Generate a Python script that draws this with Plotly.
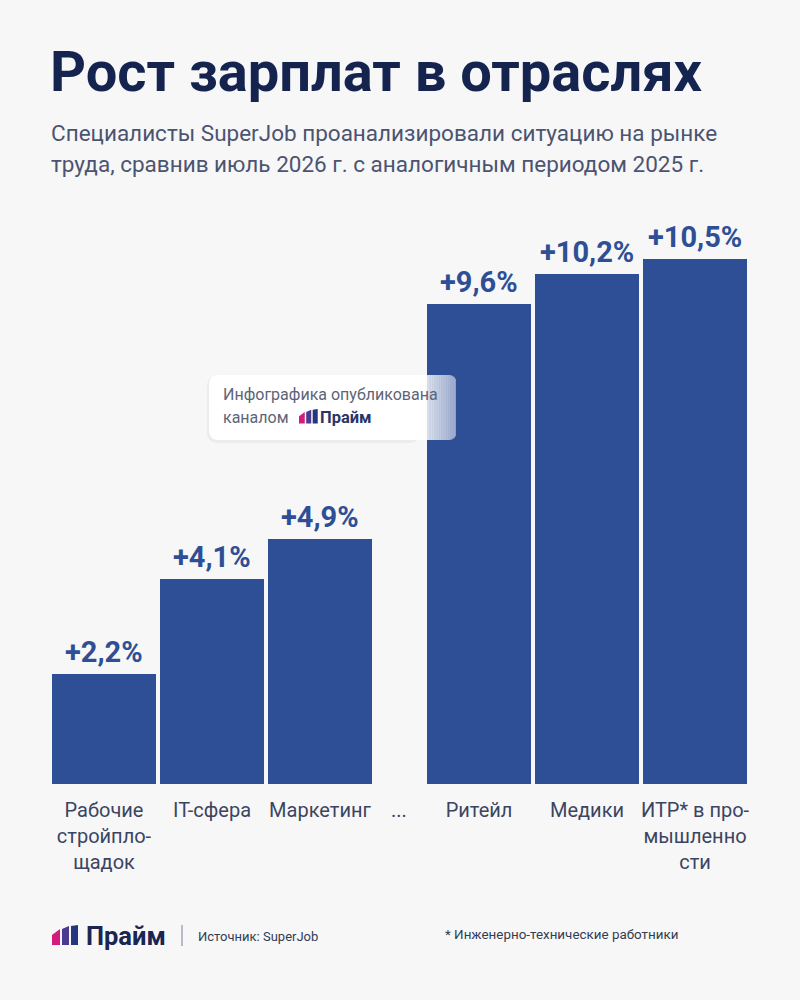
import plotly.graph_objects as go

# ---------------- data ----------------
cats_left = ["Рабочие<br>стройпло-<br>щадок", "IT-сфера", "Маркетинг"]
vals_left = [2.2, 4.1, 4.9]
cats_right = ["Ритейл", "Медики", "ИТР* в про-<br>мышленно<br>сти"]
vals_right = [9.6, 10.2, 10.5]
gap_label = "..."

title_text = "Рост зарплат в отраслях"
subtitle_lines = [
    "Специалисты SuperJob проанализировали ситуацию на рынке",
    "труда, сравнив июль 2026 г. с аналогичным периодом 2025 г.",
]
source_text = "Источник: SuperJob"
note_text = "* Инженерно-технические работники"
overlay_lines = ["Инфографика опубликована", "каналом"]
brand = "Прайм"

# ---------------- style ----------------
W, H = 800, 1000
BG = "#f7f7f8"
BAR = "#2e4f96"
NAVY = "#14244f"
SUB = "#4b5470"
TICK = "#3b4561"
FONT = "Roboto"


def px(x):
    return x / W


def py(y):
    return 1 - y / H


def fmt(v):
    return ("+%.1f%%" % v).replace(".", ",")


fig = go.Figure()
fig.add_trace(go.Bar(x=cats_left, y=vals_left, xaxis="x", yaxis="y",
                     marker=dict(color=BAR, line=dict(width=0)), hoverinfo="skip"))
fig.add_trace(go.Bar(x=cats_right, y=vals_right, xaxis="x2", yaxis="y",
                     marker=dict(color=BAR, line=dict(width=0)), hoverinfo="skip"))

annotations = []
for xa, cats, vals in (("x", cats_left, vals_left), ("x2", cats_right, vals_right)):
    for c, v in zip(cats, vals):
        annotations.append(dict(x=c, y=v, xref=xa, yref="y", text="<b>%s</b>" % fmt(v),
                                showarrow=False, yanchor="bottom", yshift=3,
                                font=dict(family=FONT, size=29, color=BAR)))

# gap marker
annotations.append(dict(x=px(399), y=py(810), xref="paper", yref="paper", text=gap_label,
                        showarrow=False, xanchor="center", yanchor="middle",
                        font=dict(family=FONT, size=20, color=TICK)))

# title and subtitle
annotations.append(dict(x=px(48), y=py(72), xref="paper", yref="paper",
                        text="<b>%s</b>" % title_text, showarrow=False,
                        xanchor="left", yanchor="middle",
                        font=dict(family=FONT, size=56, color=NAVY)))
for i, line in enumerate(subtitle_lines):
    annotations.append(dict(x=px(49), y=py(133 + 31 * i), xref="paper", yref="paper",
                            text=line, showarrow=False, xanchor="left", yanchor="middle",
                            font=dict(family=FONT, size=22.5, color=SUB)))

# overlay box texts
annotations.append(dict(x=px(221), y=py(394), xref="paper", yref="paper",
                        text=overlay_lines[0], showarrow=False, xanchor="left", yanchor="middle",
                        font=dict(family=FONT, size=16, color="#5d6478")))
annotations.append(dict(x=px(221), y=py(418), xref="paper", yref="paper",
                        text=overlay_lines[1], showarrow=False, xanchor="left", yanchor="middle",
                        font=dict(family=FONT, size=16, color="#5d6478")))
annotations.append(dict(x=px(318), y=py(418), xref="paper", yref="paper",
                        text="<b>%s</b>" % brand, showarrow=False, xanchor="left", yanchor="middle",
                        font=dict(family=FONT, size=16.5, color="#2a3566")))

# footer
annotations.append(dict(x=px(84), y=py(936), xref="paper", yref="paper",
                        text="<b>%s</b>" % brand, showarrow=False, xanchor="left", yanchor="middle",
                        font=dict(family=FONT, size=25.5, color="#1a2552")))
annotations.append(dict(x=px(196), y=py(936), xref="paper", yref="paper",
                        text=source_text, showarrow=False, xanchor="left", yanchor="middle",
                        font=dict(family=FONT, size=13, color="#333c52")))
annotations.append(dict(x=px(443), y=py(934), xref="paper", yref="paper",
                        text=note_text, showarrow=False, xanchor="left", yanchor="middle",
                        font=dict(family=FONT, size=13.4, color="#333c52")))

shapes = []


def poly(points, color, opacity=1.0):
    d = "M " + " L ".join("%f,%f" % (px(a), py(b)) for a, b in points) + " Z"
    return dict(type="path", path=d, xref="paper", yref="paper", fillcolor=color,
                line=dict(width=0), opacity=opacity, layer="above")


def logo(x0, y0, s):
    # y0 = top, s = scale; base design 26 x 20
    pts = [
        ([(0, 20), (8, 20), (8, 4), (0, 10)], "#d41c7c"),
        ([(10, 20), (17, 20), (17, 1), (10, 4)], "#4b3a8e"),
        ([(19, 20), (26, 20), (26, 0), (19, 1)], "#24367f"),
    ]
    out = []
    for p, col in pts:
        out.append(poly([(x0 + a * s, y0 + b * s) for a, b in p], col))
    return out


def rounded(x0, y0, x1, y1, r):
    return ("M %f,%f L %f,%f Q %f,%f %f,%f L %f,%f Q %f,%f %f,%f L %f,%f Q %f,%f %f,%f "
            "L %f,%f Q %f,%f %f,%f Z") % (
        px(x0 + r), py(y0), px(x1 - r), py(y0), px(x1), py(y0), px(x1), py(y0 + r),
        px(x1), py(y1 - r), px(x1), py(y1), px(x1 - r), py(y1),
        px(x0 + r), py(y1), px(x0), py(y1), px(x0), py(y1 - r),
        px(x0), py(y0 + r), px(x0), py(y0), px(x0 + r), py(y0))


# soft shadow
shapes.append(dict(type="path", path=rounded(207, 376, 420, 443, 11), xref="paper", yref="paper",
                   fillcolor="rgba(30,40,70,0.05)", line=dict(width=0), layer="above"))
shapes.append(dict(type="path", path=rounded(209, 375, 420, 440, 10), xref="paper", yref="paper",
                   fillcolor="white", line=dict(width=0), layer="above"))
steps = 36
x_start, x_end = 410, 456
for i in range(steps):
    xa = x_start + (x_end - x_start) * i / steps
    xb = x_start + (x_end - x_start) * (i + 1) / steps + 0.3
    t = (i + 0.5) / steps
    op = 1.0 - 0.55 * t
    top, bot = 375, 440
    # round the right end
    rem = x_end - xa
    if rem < 8:
        inset = 8 - (64 - (8 - rem) ** 2) ** 0.5 if rem < 8 else 0
        inset = 8 - ((8 ** 2 - (8 - rem) ** 2) ** 0.5)
        top, bot = 375 + inset, 440 - inset
    shapes.append(dict(type="rect", x0=px(xa), x1=px(min(xb, x_end)), y0=py(bot), y1=py(top),
                       xref="paper", yref="paper", fillcolor="white", opacity=op,
                       line=dict(width=0), layer="above"))

shapes += logo(299, 409, 0.72)
shapes += logo(52, 925, 1.0)
# footer divider
shapes.append(dict(type="line", x0=px(182), x1=px(182), y0=py(925), y1=py(946),
                   xref="paper", yref="paper", line=dict(color="#7a8090", width=1)))

ax_common = dict(showgrid=False, zeroline=False, showline=False, ticks="",
                 ticklabelstandoff=12,
                 tickfont=dict(family=FONT, size=20, color=TICK), fixedrange=True)

fig.update_layout(
    width=W, height=H, autosize=False,
    margin=dict(l=0, r=0, t=0, b=0),
    paper_bgcolor=BG, plot_bgcolor="rgba(0,0,0,0)",
    showlegend=False, bargap=4 / 108,
    xaxis=dict(domain=[px(50), px(374)], anchor="y", **ax_common),
    xaxis2=dict(domain=[px(425), px(749)], anchor="y", **ax_common),
    yaxis=dict(domain=[py(784), py(184)], range=[0, 12], visible=False, fixedrange=True),
    annotations=annotations,
    shapes=shapes,
    font=dict(family=FONT),
)

fig.write_html("out.html")
